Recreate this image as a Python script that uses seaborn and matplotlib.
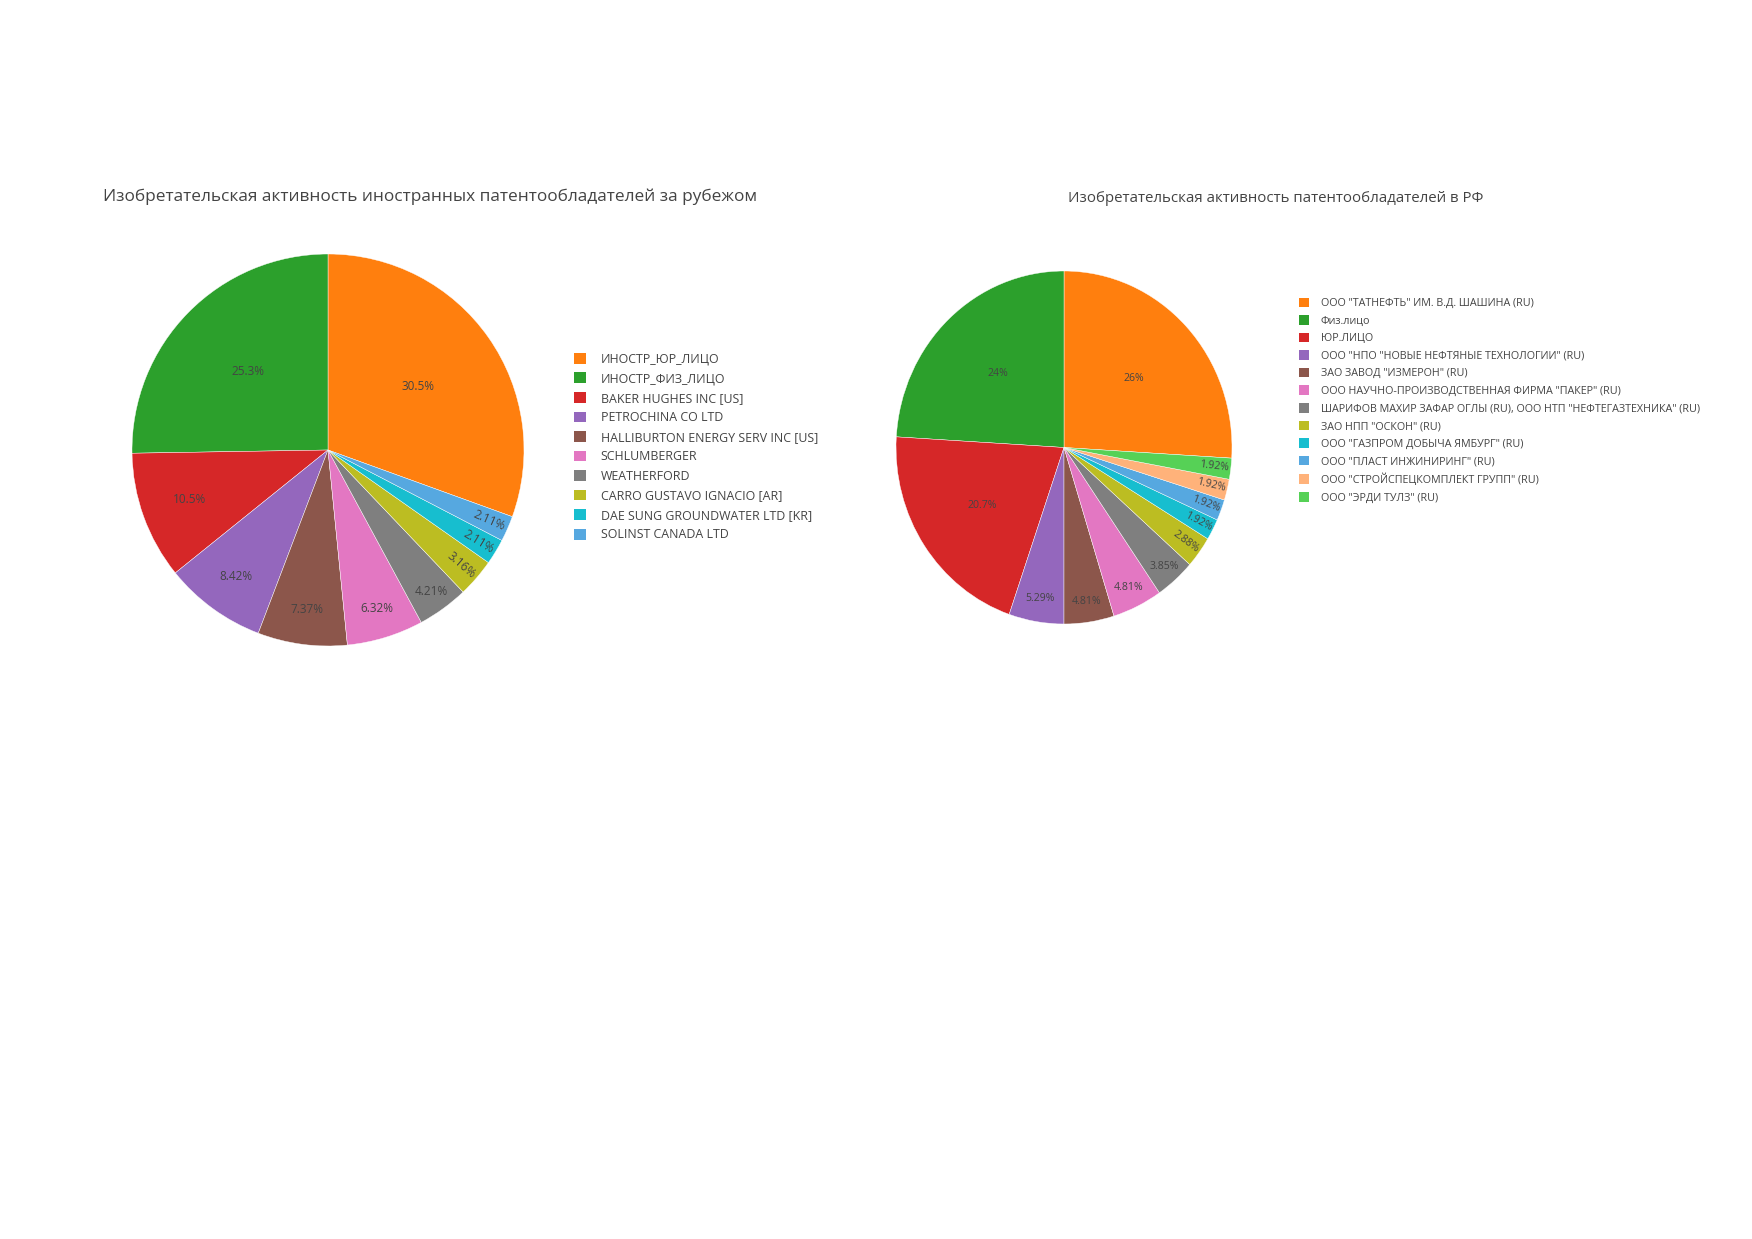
import numpy as np
import matplotlib
matplotlib.use("Agg")
import matplotlib.pyplot as plt
from matplotlib.patches import Patch
import seaborn as sns

# ---------------- data ----------------
foreign_title = "Изобретательская активность иностранных патентообладателей за рубежом"
foreign_labels = [
    "ИНОСТР_ЮР_ЛИЦО",
    "ИНОСТР_ФИЗ_ЛИЦО",
    "BAKER HUGHES INC [US]",
    "PETROCHINA CO LTD",
    "HALLIBURTON ENERGY SERV INC [US]",
    "SCHLUMBERGER",
    "WEATHERFORD",
    "CARRO GUSTAVO IGNACIO [AR]",
    "DAE SUNG GROUNDWATER LTD [KR]",
    "SOLINST CANADA LTD",
]
foreign_values = [29, 24, 10, 8, 7, 6, 4, 3, 2, 2]

ru_title = "Изобретательская активность патентообладателей в РФ"
ru_labels = [
    'ООО "ТАТНЕФТЬ" ИМ. В.Д. ШАШИНА (RU)',
    "Физ.лицо",
    "ЮР.ЛИЦО",
    'ООО "НПО "НОВЫЕ НЕФТЯНЫЕ ТЕХНОЛОГИИ" (RU)',
    'ЗАО ЗАВОД "ИЗМЕРОН" (RU)',
    'ООО НАУЧНО-ПРОИЗВОДСТВЕННАЯ ФИРМА "ПАКЕР" (RU)',
    'ШАРИФОВ МАХИР ЗАФАР ОГЛЫ (RU), ООО НТП "НЕФТЕГАЗТЕХНИКА" (RU)',
    'ЗАО НПП "ОСКОН" (RU)',
    'ООО "ГАЗПРОМ ДОБЫЧА ЯМБУРГ" (RU)',
    'ООО "ПЛАСТ ИНЖИНИРИНГ" (RU)',
    'ООО "СТРОЙСПЕЦКОМПЛЕКТ ГРУПП" (RU)',
    'ООО "ЭРДИ ТУЛЗ" (RU)',
]
ru_values = [54, 50, 43, 11, 10, 10, 8, 6, 4, 4, 4, 4]

# ---------------- style ----------------
sns.set_theme(style="white")
plt.rcParams["font.family"] = ["Open Sans", "DejaVu Sans"]
TXT = "#444444"

palette = sns.color_palette([
    "#ff7f0e", "#2ca02c", "#d62728", "#9467bd", "#8c564b", "#e377c2",
    "#7f7f7f", "#bcbd22", "#17becf", "#56a8e0", "#ffb27a", "#56d156",
])


def fmt_pct(p):
    return f"{p:.3g}%"


def draw_pie(ax, values, colors, fontsize):
    vals = np.asarray(values, dtype=float)
    frac = vals / vals.sum()
    start = 90 - 360 * frac[0]
    wedges, _ = ax.pie(
        vals, colors=colors, startangle=start, counterclock=True,
        radius=1.0, wedgeprops=dict(edgecolor="white", linewidth=0.3),
    )
    for w, f in zip(wedges, frac):
        pct = f * 100
        mid = np.deg2rad((w.theta1 + w.theta2) / 2)
        d = np.interp(pct, [4, 10.5, 20, 30], [0.9, 0.75, 0.59, 0.56])
        x, y = d * np.cos(mid), d * np.sin(mid)
        rot = 0
        if pct < 3.5:
            deg = np.rad2deg(mid)
            deg = (deg + 180) % 360 - 180
            if deg > 90:
                deg -= 180
            elif deg < -90:
                deg += 180
            rot = deg
        ax.text(x, y, fmt_pct(pct), ha="center", va="center", rotation=rot,
                rotation_mode="anchor", fontsize=fontsize, color=TXT)
    ax.set_xlim(-1.02, 1.02)
    ax.set_ylim(-1.02, 1.02)
    ax.set_aspect("auto")
    ax.axis("off")


W, H = 1752, 1239
fig = plt.figure(figsize=(W / 100, H / 100), dpi=100)
fig.patch.set_facecolor("white")


def px_axes(cx, cy, rx, ry):
    rx, ry = rx * 1.02, ry * 1.02
    return fig.add_axes([(cx - rx) / W, 1 - (cy + ry) / H, 2 * rx / W, 2 * ry / H])


ax1 = px_axes(328, 450, 196, 196)
draw_pie(ax1, foreign_values, palette[:len(foreign_values)], 8.5)

ax2 = px_axes(1064, 447.5, 168, 176.5)
draw_pie(ax2, ru_values, palette[:len(ru_values)], 7.6)

fig.text(103 / W, 1 - 197 / H, foreign_title, ha="left", va="center",
         fontsize=12.45, color=TXT)
fig.text(1068 / W, 1 - 198 / H, ru_title, ha="left", va="center",
         fontsize=10.8, color=TXT)

h1 = [Patch(facecolor=c, edgecolor="none") for c in palette[:len(foreign_labels)]]
leg1 = fig.legend(h1, foreign_labels, loc="upper left",
                  bbox_to_anchor=(574 / W, 1 - 352.5 / H), frameon=False,
                  fontsize=8.9, handlelength=0.95, handleheight=0.95,
                  handletextpad=1.2, labelspacing=0.53, borderpad=0,
                  borderaxespad=0)
for t in leg1.get_texts():
    t.set_color(TXT)

h2 = [Patch(facecolor=c, edgecolor="none") for c in palette[:len(ru_labels)]]
leg2 = fig.legend(h2, ru_labels, loc="upper left",
                  bbox_to_anchor=(1298.5 / W, 1 - 297.5 / H), frameon=False,
                  fontsize=7.72, handlelength=1.0, handleheight=1.0,
                  handletextpad=1.08, labelspacing=0.57, borderpad=0,
                  borderaxespad=0)
for t in leg2.get_texts():
    t.set_color(TXT)

fig.savefig("out.png", dpi=100, facecolor="white")
